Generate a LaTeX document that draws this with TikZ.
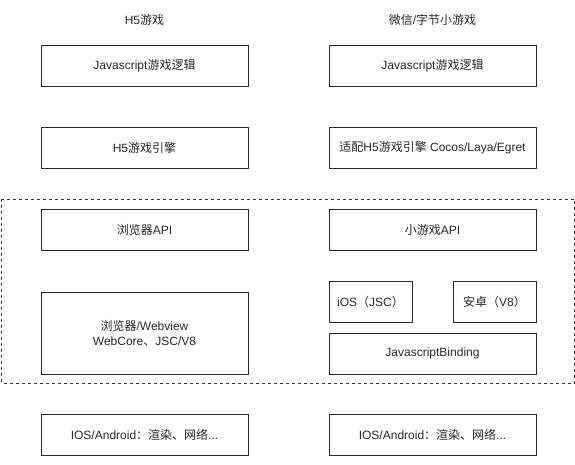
\documentclass[tikz,border=0pt]{standalone}
\usepackage{fontspec}
\setmainfont{Liberation Sans}
\newfontfamily\cjk{Noto Sans CJK SC}
\begin{document}
\begin{tikzpicture}[x=1pt,y=-1pt,
  txt/.style={font=\fontsize{12}{15}\selectfont, text=black!85},
  box/.style={txt, draw=black!85, line width=0.9pt, inner sep=0pt, minimum width=207pt, minimum height=41pt, align=center},
  smallbox/.style={box, minimum width=83pt}]
\useasboundingbox (0,0) rectangle (575,464);
\node[txt] (lh) at (144.5,20) {H5{\cjk 游戏}};
\node[txt] (rh) at (432.5,20) {{\cjk 微信}/{\cjk 字节小游戏}};
\node[box] (l1) at (144.5,66) {Javascript{\cjk 游戏逻辑}};
\node[box] (r1) at (432.5,66) {Javascript{\cjk 游戏逻辑}};
\node[box] (l2) at (144.5,147.5) {H5{\cjk 游戏引擎}};
\node[box] (r2) at (432.5,147.5) {{\cjk 适配}H5{\cjk 游戏引擎} Cocos/Laya/Egret};
\draw[dashed, line width=0.8pt, black!80] (1.5,199) rectangle (574.5,383);
\node[box] (l3) at (144.5,230) {{\cjk 浏览器}API};
\node[box] (r3) at (432.5,230) {{\cjk 小游戏}API};
\node[box, minimum height=82pt] (l4) at (144.5,333) {{\cjk 浏览器}/Webview\\WebCore{\cjk 、}JSC/V8};
\node[smallbox] (ios) at (370.5,301.5) {iOS{\cjk （}JSC{\cjk ）}};
\node[smallbox] (adr) at (494.5,301.5) {{\cjk 安卓（}V8{\cjk ）}};
\node[box] (bind) at (432.5,353.5) {JavascriptBinding};
\node[box] (l5) at (144.5,435) {IOS/Android{\cjk ：渲染、网络}...};
\node[box] (r5) at (432.5,435) {IOS/Android{\cjk ：渲染、网络}...};
\end{tikzpicture}
\end{document}
